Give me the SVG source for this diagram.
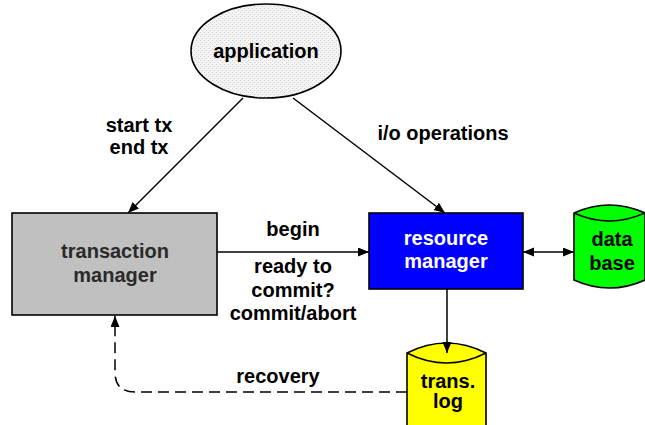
<svg xmlns="http://www.w3.org/2000/svg" width="645" height="425" viewBox="0 0 645 425">
<style>
text{font-family:"Liberation Sans",Arial,Helvetica,sans-serif;font-weight:bold;font-size:20px;text-anchor:middle;fill:#000}
.shape{stroke:#000;stroke-width:1.6}
.line{stroke:#000;stroke-width:1.5;fill:none}
</style>
<defs>
<pattern id="dots" width="4" height="4" patternUnits="userSpaceOnUse">
<rect width="4" height="4" fill="#f4f4f4"/>
<rect x="0" y="0" width="1" height="1" fill="#cfcfcf"/>
<rect x="2" y="2" width="1" height="1" fill="#cfcfcf"/>
</pattern>
<marker id="arr" markerUnits="userSpaceOnUse" markerWidth="12" markerHeight="10" refX="11" refY="4.5" orient="auto-start-reverse">
<path d="M0,0 L11,4.5 L0,9 z" fill="#000"/>
</marker>
</defs>
<g id="application">
<ellipse class="shape" cx="266" cy="51" rx="75" ry="47" fill="url(#dots)"/>
<text x="266" y="58">application</text>
</g>
<g id="transaction-manager">
<rect class="shape" x="12" y="213" width="205" height="102" fill="#c0c0c0"/>
<text x="115" y="258" style="fill:#2a2a2a">transaction</text>
<text x="115" y="282" style="fill:#2a2a2a">manager</text>
</g>
<g id="resource-manager">
<rect class="shape" x="369" y="213" width="154" height="76" fill="#0000ff"/>
<text x="446" y="245" style="fill:#fff">resource</text>
<text x="446" y="268" style="fill:#fff">manager</text>
</g>
<g id="database">
<path class="shape" fill="#00ff00" d="M574,213 Q609.5,197 645,213 V280 Q609.5,296 574,280 Z"/>
<path class="line" d="M574,213 Q609.5,229 645,213"/>
<text x="612" y="246">data</text>
<text x="612" y="270">base</text>
</g>
<g id="trans-log">
<path class="shape" fill="#ffff00" d="M407,353 Q446.5,333 486,353 V430 H407 Z"/>
<path class="line" d="M407,353 Q446.5,373 486,353"/>
<text x="448" y="388">trans.</text>
<text x="448" y="408">log</text>
</g>
<g id="connectors">
<line class="line" x1="243" y1="98" x2="128" y2="213" marker-end="url(#arr)"/>
<line class="line" x1="293" y1="98" x2="445" y2="213" marker-end="url(#arr)"/>
<line class="line" x1="217" y1="252" x2="369" y2="252" marker-end="url(#arr)"/>
<line class="line" x1="523" y1="252" x2="574" y2="252" marker-start="url(#arr)" marker-end="url(#arr)"/>
<line class="line" x1="447" y1="289" x2="447" y2="353" marker-end="url(#arr)"/>
<path class="line" d="M407,392 H135 Q115,392 115,372 V316" stroke-dasharray="11 6" marker-end="url(#arr)"/>
<text x="139" y="132">start tx</text>
<text x="139" y="154">end tx</text>
<text x="443" y="140">i/o operations</text>
<text x="293" y="236">begin</text>
<text x="293" y="273">ready to</text>
<text x="293" y="297">commit?</text>
<text x="293" y="320">commit/abort</text>
<text x="278" y="383">recovery</text>
</g>
</svg>
